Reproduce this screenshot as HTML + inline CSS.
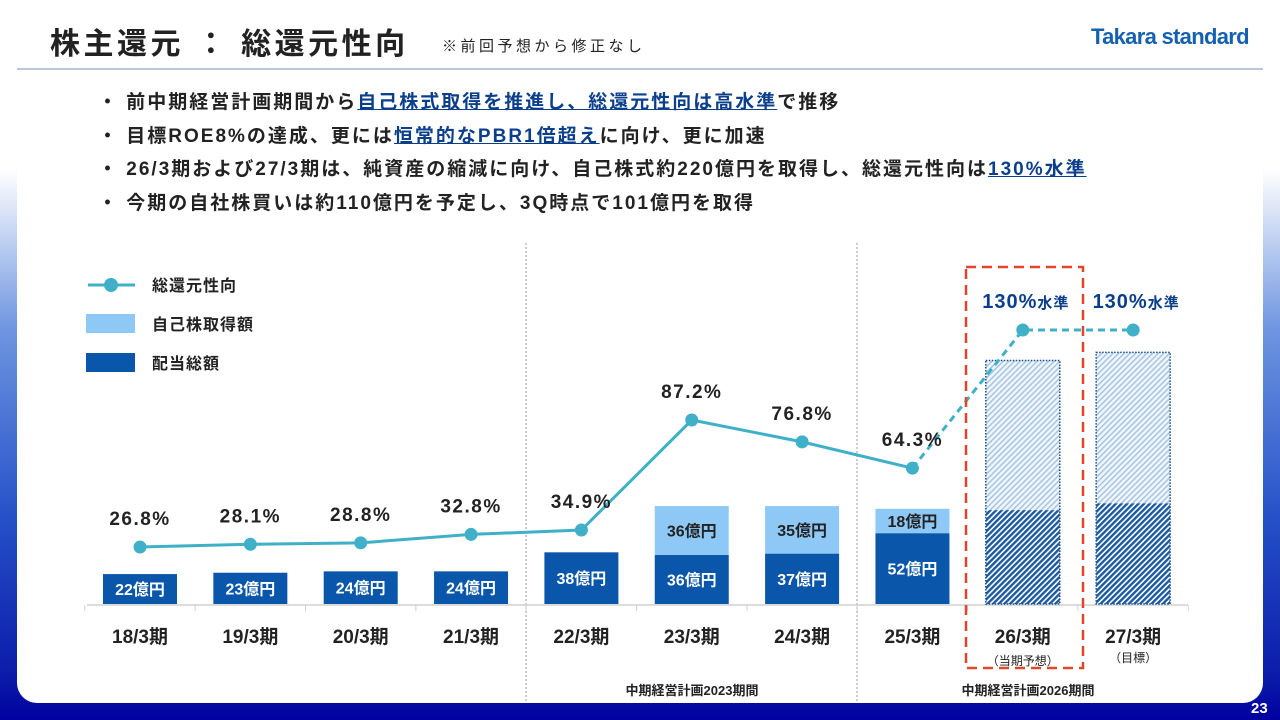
<!DOCTYPE html>
<html><head><meta charset="utf-8">
<style>
body{margin:0;width:1280px;height:720px;overflow:hidden;font-family:"Liberation Sans","Noto Sans CJK JP",sans-serif;}
#bg{position:absolute;left:0;top:0;width:1280px;height:720px;background:linear-gradient(180deg,#fff 0px,#fff 170px,#6d95e0 330px,#2550c8 520px,#0a1aa8 680px,#0000a0 720px);}
#card{position:absolute;left:17px;top:-30px;width:1246px;height:733px;background:#fff;border-radius:20px;}
.t{position:absolute;white-space:nowrap;color:#222;}
.b{font-weight:bold;}
.u{color:#0b3f8c;text-decoration:underline;}
</style></head><body>
<div id="bg"></div>
<div id="card"></div>
<div class="t b" style="left:50px;top:19px;font-size:30px;letter-spacing:3.5px">株主還元 ： 総還元性向</div>
<div class="t" style="left:442px;top:35px;font-size:15px;letter-spacing:3.5px">※前回予想から修正なし</div>
<div class="t b" style="left:1091px;top:24px;font-size:22px;color:#1560b0;letter-spacing:-0.7px">Takara standard</div>
<div style="position:absolute;left:17px;top:68px;width:1246px;height:2px;background:#b8c8d8"></div>
<div class="t b" style="left:98px;top:86px;font-size:19px;line-height:33.5px;letter-spacing:2px">
・ 前中期経営計画期間から<span class="u">自己株式取得を推進し、総還元性向は高水準</span>で推移<br>
・ 目標ROE8%の達成、更には<span class="u">恒常的なPBR1倍超え</span>に向け、更に加速<br>
・ 26/3期および27/3期は、純資産の縮減に向け、自己株式約220億円を取得し、総還元性向は<span class="u">130%水準</span><br>
・ 今期の自社株買いは約110億円を予定し、3Q時点で101億円を取得</div>
<div class="t b" style="left:1251px;top:700px;font-size:15px;color:#fff">23</div>
<svg id="chart" width="1280" height="720" style="position:absolute;left:0;top:0">
<defs>
<pattern id="hl" width="4" height="4" patternUnits="userSpaceOnUse" patternTransform="rotate(45)"><rect width="4" height="4" fill="#f2f7fc"/><rect width="1.6" height="4" fill="#a9c6e2"/></pattern>
<pattern id="hd" width="4" height="4" patternUnits="userSpaceOnUse" patternTransform="rotate(45)"><rect width="4" height="4" fill="#fff"/><rect width="2.4" height="4" fill="#1b5aa0"/></pattern>
</defs>
</svg>
<script>
const categories=["18/3期","19/3期","20/3期","21/3期","22/3期","23/3期","24/3期","25/3期","26/3期","27/3期"];
const dividend=[22,23,24,24,38,36,37,52,69,74];
const buyback=[0,0,0,0,0,36,35,18,110,111];
const payout=[26.8,28.1,28.8,32.8,34.9,87.2,76.8,64.3,130,130];
const payoutLabels=["26.8%","28.1%","28.8%","32.8%","34.9%","87.2%","76.8%","64.3%","130%","130%"];
const forecast=[false,false,false,false,false,false,false,false,true,true];
const svg=document.getElementById('chart');const NS='http://www.w3.org/2000/svg';
function xc(i){return 140+i*110.35;}
function yb(v){return 604-1.36*v;}
function yl(v){return 603.4-2.103*v;}
function mk(tag,at,txt){const e=document.createElementNS(NS,tag);for(const k in at)e.setAttribute(k,at[k]);if(txt!==undefined)e.textContent=txt;svg.appendChild(e);return e;}
let e;
e=mk('line',{x1:526,y1:243,x2:526,y2:702,stroke:'#999','stroke-dasharray':'2,2'});


e=mk('line',{x1:857,y1:243,x2:857,y2:702,stroke:'#999','stroke-dasharray':'2,2'});


e=mk('line',{x1:87,y1:605,x2:1188,y2:605,stroke:'#d0d0d0','stroke-width':1.5});


for(let i=0;i<=categories.length;i++){const x=xc(i)-55.2;e=mk('line',{x1:x,y1:605,x2:x,y2:611,stroke:'#d0d0d0'});

}
categories.forEach((c,i)=>{
 const x=xc(i)-37,w=74;
 const y0=yb(0),y1=yb(dividend[i]),y2=yb(dividend[i]+buyback[i]);
 if(forecast[i]){
  e=mk('rect',{x:x,y:y2,width:w,height:y1-y2,fill:'url(#hl)'});
  
  
  e=mk('rect',{x:x,y:y1,width:w,height:y0-y1,fill:'url(#hd)'});
  
  
  e=mk('rect',{x:x,y:y2,width:w,height:y0-y2,fill:'none',stroke:'#1b4f90','stroke-width':1.5,'stroke-dasharray':'1.5,1.5'});
  
  
 }else{
  if(buyback[i]>0){e=mk('rect',{x:x,y:y2,width:w,height:y1-y2,fill:'#8ec8f6'});
  
  
  e=mk('text',{x:xc(i),y:(y1+y2)/2+6,'text-anchor':'middle','font-size':16,'font-weight':'bold',fill:'#222'},buyback[i]+'億円');
  
  }
  e=mk('rect',{x:x,y:y1,width:w,height:y0-y1,fill:'#0a56aa'});
  
  
  e=mk('text',{x:xc(i),y:(y0+y1)/2+6,'text-anchor':'middle','font-size':16,'font-weight':'bold',fill:'#fff'},dividend[i]+'億円');
  
  
 }
 e=mk('text',{x:xc(i),y:643,'text-anchor':'middle','font-size':19,'font-weight':'bold',fill:'#222'},c);
 
 
});
let solid='',dash='';
payout.forEach((v,i)=>{const p=xc(i)+','+yl(v);if(!forecast[i])solid+=(solid?' ':'')+p;});
const last=payout.length-1-forecast.filter(f=>f).length;
payout.forEach((v,i)=>{if(i>=last)dash+=(dash?' ':'')+xc(i)+','+yl(v);});
e=mk('polyline',{points:solid,fill:'none',stroke:'#3fb0c8','stroke-width':3});


e=mk('polyline',{points:dash,fill:'none',stroke:'#3fb0c8','stroke-width':3,'stroke-dasharray':'7,5'});


payout.forEach((v,i)=>{
 e=mk('circle',{cx:xc(i),cy:yl(v),r:6.5,fill:'#3fb0c8'});
 
 
 if(forecast[i]){
  e=mk('text',{x:xc(i)+3,y:yl(v)-22,'text-anchor':'middle','font-size':20,'font-weight':'bold',fill:'#0b3f8c','letter-spacing':1});
  
  
  e.innerHTML=payoutLabels[i]+'<tspan font-size="15">水準</tspan>';
 }else{
  e=mk('text',{x:xc(i),y:yl(v)-22,'text-anchor':'middle','font-size':19,'font-weight':'bold',fill:'#222','letter-spacing':1.5},payoutLabels[i]);
  
  
 }
});
e=mk('rect',{x:966,y:267,width:117,height:401,fill:'none',stroke:'#e0462a','stroke-width':2.5,'stroke-dasharray':'10,6'});


e=mk('text',{x:xc(8),y:665,'text-anchor':'middle','font-size':12,fill:'#222'},'（当期予想）');


e=mk('text',{x:xc(9),y:662,'text-anchor':'middle','font-size':12,fill:'#222'},'（目標）');


e=mk('text',{x:692,y:695,'text-anchor':'middle','font-size':13,'font-weight':'bold',fill:'#222'},'中期経営計画2023期間');


e=mk('text',{x:1028,y:695,'text-anchor':'middle','font-size':13,'font-weight':'bold',fill:'#222'},'中期経営計画2026期間');


e=mk('line',{x1:88,y1:285,x2:135,y2:285,stroke:'#3fb0c8','stroke-width':3});


e=mk('circle',{cx:111,cy:285,r:7,fill:'#3fb0c8'});


e=mk('rect',{x:86,y:314,width:49,height:19,fill:'#8ec8f6'});


e=mk('rect',{x:86,y:353,width:49,height:19,fill:'#0a56aa'});


e=mk('text',{x:152,y:291,'font-size':16,'font-weight':'bold',fill:'#222','letter-spacing':1},'総還元性向');


e=mk('text',{x:152,y:330,'font-size':16,'font-weight':'bold',fill:'#222','letter-spacing':1},'自己株取得額');


e=mk('text',{x:152,y:369,'font-size':16,'font-weight':'bold',fill:'#222','letter-spacing':1},'配当総額');


</script>
</body></html>
